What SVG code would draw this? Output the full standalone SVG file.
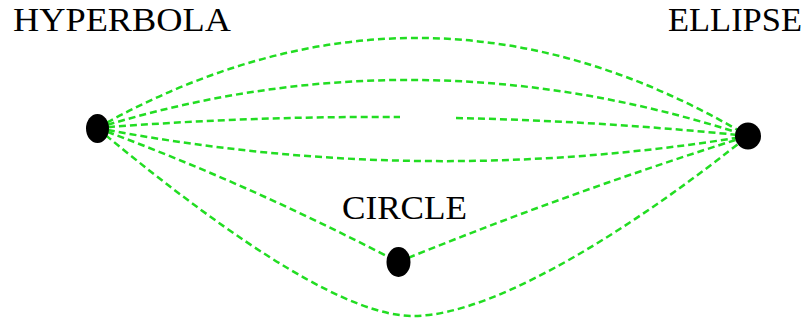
<svg xmlns="http://www.w3.org/2000/svg" width="805" height="320" viewBox="0 0 805 320">
<style>
.edge{fill:none;stroke:#22dd22;stroke-width:2.5;stroke-dasharray:7 4}
.node{fill:#000}
.lbl{font-family:"Liberation Serif","Times New Roman",serif;fill:#000}
</style>
<rect width="805" height="320" fill="#fff"/>
<g id="connectors">
<path class="edge" d="M97,128 Q425,-56 748,136"/>
<path class="edge" d="M97,128 Q420,28 748,136"/>
<path class="edge" d="M97,128 Q248,116 400,117"/>
<path class="edge" d="M456,118 Q601,121 748,136"/>
<path class="edge" d="M97,128 Q420,190 748,136"/>
<path class="edge" d="M97,128 Q247,183 398,262"/>
<path class="edge" d="M398,262 Q570,192 748,136"/>
<path class="edge" d="M97,128 Q323,316 413,316 C500,316 650,215 748,136"/>
</g>
<g id="hyperbola">
<ellipse class="node" cx="97.5" cy="128.5" rx="11.5" ry="14.5"/>
<text class="lbl" x="13" y="31" font-size="33" textLength="218" lengthAdjust="spacingAndGlyphs">HYPERBOLA</text>
</g>
<g id="ellipse">
<ellipse class="node" cx="748" cy="136" rx="13" ry="13.5"/>
<text class="lbl" x="668" y="31" font-size="33" textLength="134" lengthAdjust="spacingAndGlyphs">ELLIPSE</text>
</g>
<g id="circle">
<ellipse class="node" cx="398.5" cy="262" rx="12" ry="15"/>
<text class="lbl" x="342" y="219" font-size="34" textLength="125" lengthAdjust="spacingAndGlyphs">CIRCLE</text>
</g>
</svg>
